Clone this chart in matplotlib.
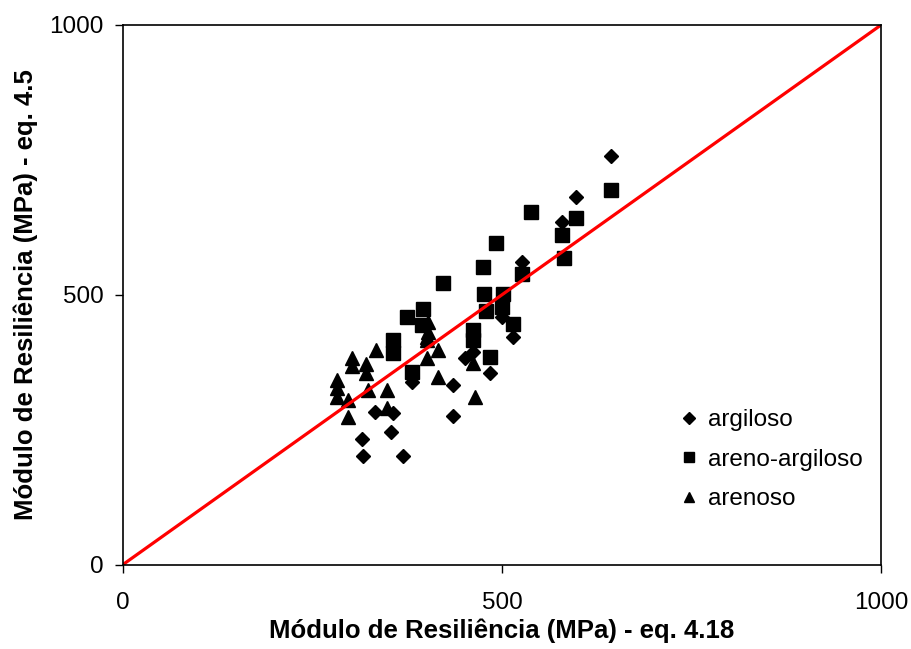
import matplotlib.pyplot as plt
import numpy as np

plt.rcParams['font.family'] = ['Liberation Sans', 'DejaVu Sans']

# argiloso (diamonds)
arg_x = [644, 597, 579, 527, 514, 500, 462, 451, 484, 435, 435, 381, 332, 356, 353, 315, 317, 369]
arg_y = [757, 681, 635, 561, 422, 459, 393, 382, 355, 333, 275, 338, 283, 281, 246, 233, 201, 201]

# areno-argiloso (squares)
are_arg_x = [644, 597, 579, 582, 538, 492, 475, 527, 476, 501, 479, 500, 514, 462, 462, 484,
             422, 375, 396, 394, 356, 356, 381]
are_arg_y = [694, 642, 611, 568, 653, 596, 551, 538, 501, 501, 470, 477, 446, 435, 416, 384,
             522, 459, 474, 444, 416, 392, 357]

# arenoso (triangles)
aren_x = [334, 302, 302, 320, 320, 282, 282, 282, 323, 297, 297, 348, 348, 401, 401, 415,
          415, 402, 402, 401, 462, 464]
aren_y = [398, 383, 368, 372, 355, 342, 327, 310, 323, 305, 273, 323, 290, 422, 383, 398,
          348, 450, 431, 416, 374, 310]

line_x = [0, 1000]
line_y = [0, 1000]

fig = plt.figure(figsize=(9.12, 6.49), dpi=100)
ax = fig.add_axes([0.1349, 0.1302, 0.8311, 0.8313])

ax.plot(arg_x, arg_y, linestyle='none', marker='D', ms=7.5, color='black', label='argiloso')
ax.plot(are_arg_x, are_arg_y, linestyle='none', marker='s', ms=9.5, color='black', label='areno-argiloso')
ax.plot(aren_x, aren_y, linestyle='none', marker='^', ms=10, color='black', label='arenoso')
ax.plot(line_x, line_y, color='#ff0000', lw=2.3, solid_capstyle='butt')

ax.set_xlim(0, 1000)
ax.set_ylim(0, 1000)
ax.set_xticks([0, 500, 1000])
ax.set_yticks([0, 500, 1000])
ax.tick_params(direction='out', length=6, width=1, labelsize=17.5)
ax.tick_params(axis='x', pad=14)
ax.tick_params(axis='y', pad=8)

for s in ax.spines.values():
    s.set_linewidth(1.2)

ax.set_xlabel('Módulo de Resiliência (MPa) - eq. 4.18', fontsize=18.5, fontweight='bold', labelpad=3)
ax.set_ylabel('Módulo de Resiliência (MPa) - eq. 4.5', fontsize=18.5, fontweight='bold', labelpad=8)

ax.legend(loc='upper left', bbox_to_anchor=(0.707, 0.328), frameon=False, fontsize=17.5,
          handlelength=0.7, handletextpad=0.4, labelspacing=0.72, markerscale=0.75)

fig.savefig('out.png', dpi=100)
